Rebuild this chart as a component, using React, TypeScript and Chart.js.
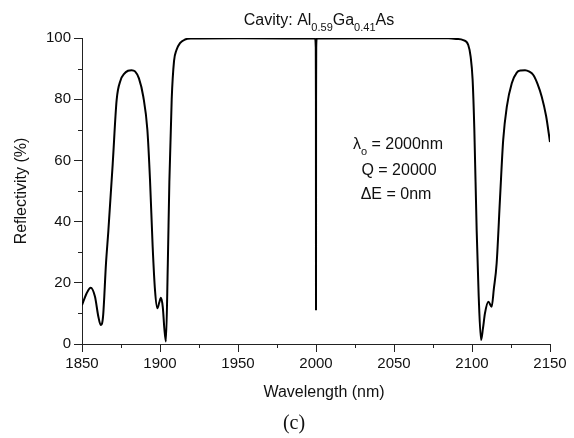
import React, { useEffect, useRef } from "react";
import { Chart, registerables } from "chart.js";

Chart.register(...registerables);

const wavelength = [
  1850, 1853, 1855.6, 1858.3, 1860.5, 1862, 1863.5, 1865.4, 1866.9, 1869.7, 1872.2,
  1874.8, 1877, 1879.5, 1881.8, 1884, 1886.5, 1889.3, 1891.9, 1893.6, 1895.3, 1896.8, 1898.3, 1899.5,
  1900.6, 1901.8, 1902.8, 1903.8, 1905, 1906, 1907.5, 1909, 1910.5, 1912.8, 1916, 1920,
  1950, 1999.5, 1999.85, 1999.95, 2000, 2000.05, 2000.15, 2000.5, 2050, 2085, 2090,
  2094.4, 2097.6, 2099.1, 2100.4, 2101.5, 2103, 2104.3, 2105.8, 2107, 2108.3, 2110.5,
  2112.6, 2114, 2115.8, 2118, 2120, 2122.3, 2125.5, 2128.7, 2131.3, 2134, 2136.8, 2139.3, 2142, 2144.7, 2147.5, 2150,
];
const reflectivity = [
  12.7, 16.6, 18.4, 15.5, 8.9, 6.2, 9, 26.5, 37, 59, 79.7,
  86.3, 88.3, 89.3, 89.5, 89.1, 86.8, 80.8, 70, 53.6, 31.8, 17.6, 11.7, 13.5,
  15.1, 12, 5, 0.8, 26, 53, 80, 92.5, 96, 98.3, 99.5, 99.8,
  99.9, 99.8, 97, 80, 11, 80, 97, 99.8, 99.9, 99.9, 99.7,
  99.3, 97.7, 94, 86.3, 70, 37, 15.5, 1.3, 5, 10, 13.8,
  12.2, 18, 26.4, 48, 66.7, 77.5, 85.2, 88.7, 89.4, 89.5, 89, 87.9, 85, 80.8, 74.5, 66,
];
const xTicks = [1850, 1900, 1950, 2000, 2050, 2100, 2150];
const yTicks = [0, 20, 40, 60, 80, 100];
const xMinor = [1875, 1925, 1975, 2025, 2075, 2125];
const yMinor = [10, 30, 50, 70, 90];

const SANS = '"Liberation Sans", Arial, sans-serif';

function drawSubText(ctx: CanvasRenderingContext2D, parts: [string, boolean][], cx: number, cy: number, size: number) {
  const subSize = Math.round(size * 0.68);
  let total = 0;
  for (const [t, sub] of parts) {
    ctx.font = `${sub ? subSize : size}px ${SANS}`;
    total += ctx.measureText(t).width;
  }
  let x = cx - total / 2;
  ctx.textAlign = "left";
  ctx.textBaseline = "middle";
  for (const [t, sub] of parts) {
    ctx.font = `${sub ? subSize : size}px ${SANS}`;
    ctx.fillText(t, x, sub ? cy + size * 0.42 : cy);
    x += ctx.measureText(t).width;
  }
}

const decorPlugin = {
  id: "decor",
  afterDraw(chart: any) {
    const ctx = chart.ctx as CanvasRenderingContext2D;
    const xs = chart.scales.x;
    const ys = chart.scales.y;
    ctx.save();
    ctx.strokeStyle = "#222";
    ctx.lineWidth = 1;
    ctx.beginPath();
    for (const v of xMinor) {
      const px = Math.round(xs.getPixelForValue(v)) + 0.5;
      ctx.moveTo(px, ys.bottom);
      ctx.lineTo(px, ys.bottom + 4);
    }
    for (const v of yMinor) {
      const py = Math.round(ys.getPixelForValue(v)) + 0.5;
      ctx.moveTo(xs.left, py);
      ctx.lineTo(xs.left - 4, py);
    }
    ctx.stroke();

    ctx.fillStyle = "#111";
    drawSubText(ctx, [["Cavity: Al", false], ["0.59", true], ["Ga", false], ["0.41", true], ["As", false]], 319, 21, 16);
    drawSubText(ctx, [["λ", false], ["o", true], [" = 2000nm", false]], 398, 145, 16);
    drawSubText(ctx, [["Q = 20000", false]], 399, 171, 16);
    drawSubText(ctx, [["ΔE = 0nm", false]], 396, 195, 16);

    ctx.font = `16px ${SANS}`;
    ctx.textAlign = "center";
    ctx.textBaseline = "middle";
    ctx.fillText("Wavelength (nm)", 324, 393);
    ctx.save();
    ctx.translate(22, 191);
    ctx.rotate(-Math.PI / 2);
    ctx.fillText("Reflectivity (%)", 0, 0);
    ctx.restore();
    ctx.font = `20px "Liberation Serif", "Times New Roman", serif`;
    ctx.fillText("(c)", 294, 424);
    ctx.restore();
  },
};

export default function App() {
  const ref = useRef<HTMLCanvasElement | null>(null);
  useEffect(() => {
    document.body.style.margin = "0";
    const canvas = ref.current!;
    const points = wavelength.map((x, i) => ({ x, y: reflectivity[i] }));
    const chart = new Chart(canvas, {
      type: "line",
      data: {
        datasets: [
          {
            data: points,
            borderColor: "#000",
            borderWidth: 2,
            pointRadius: 0,
            cubicInterpolationMode: "monotone",
            fill: false,
          },
        ],
      },
      options: {
        animation: false,
        responsive: false,
        maintainAspectRatio: false,
        layout: { padding: { top: 38, right: 24, left: 0, bottom: 0 } },
        plugins: { legend: { display: false }, tooltip: { enabled: false }, title: { display: false } },
        scales: {
          x: {
            type: "linear",
            min: 1850,
            max: 2150,
            afterBuildTicks: (s: any) => {
              s.ticks = xTicks.map((v) => ({ value: v }));
            },
            afterFit: (s: any) => {
              s.height = 94;
            },
            ticks: {
              font: { family: SANS, size: 15 },
              color: "#111",
              padding: 3,
              maxRotation: 0,
              autoSkip: false,
              callback: (v: any) => String(v),
            },
            grid: { drawOnChartArea: false, drawTicks: true, tickLength: 8, color: "#222" },
            border: { display: true, color: "#222", width: 1 },
          },
          y: {
            type: "linear",
            min: 0,
            max: 100,
            afterBuildTicks: (s: any) => {
              s.ticks = yTicks.map((v) => ({ value: v }));
            },
            afterFit: (s: any) => {
              s.width = 82;
            },
            ticks: { font: { family: SANS, size: 15 }, color: "#111", padding: 3, callback: (v: any) => String(v) },
            grid: { drawOnChartArea: false, drawTicks: true, tickLength: 8, color: "#222" },
            border: { display: true, color: "#222", width: 1 },
          },
        },
      },
      plugins: [decorPlugin],
    } as any);
    return () => chart.destroy();
  }, []);
  return (
    <div style={{ width: 574, height: 438, background: "#fff" }}>
      <canvas ref={ref} width={574} height={438} style={{ display: "block", width: 574, height: 438 }} />
    </div>
  );
}
